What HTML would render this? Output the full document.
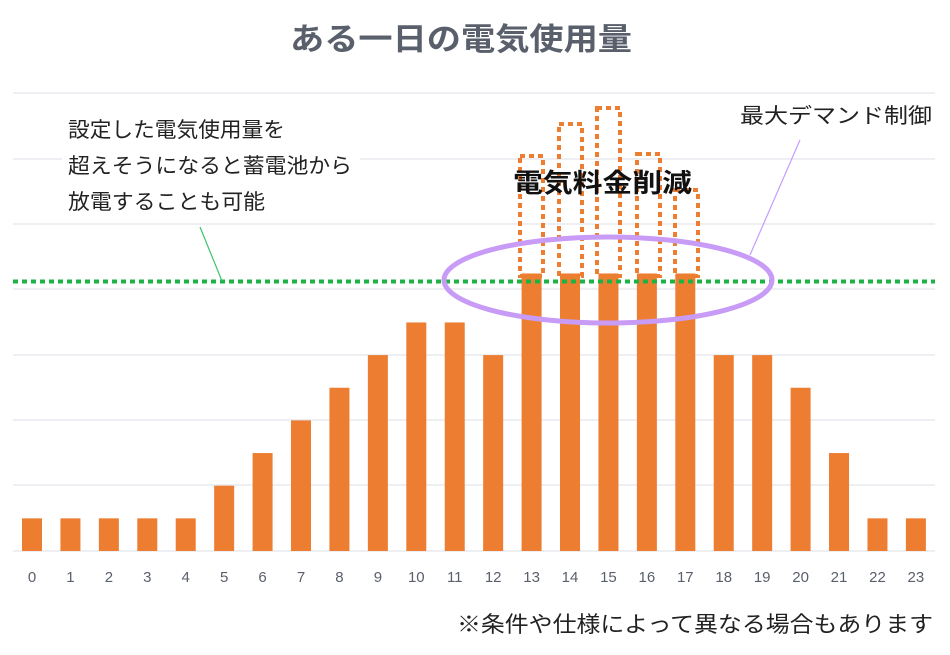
<!DOCTYPE html>
<html><head><meta charset="utf-8"><style>
body{margin:0;background:#fff}
svg{display:block}
text{font-family:"Liberation Sans","Noto Sans CJK JP",sans-serif}
</style></head><body>
<svg width="950" height="655" viewBox="0 0 950 655">
<rect width="950" height="655" fill="#fff"/>
<text x="290" y="50" font-size="31" font-weight="bold" fill="#595f6b" textLength="342" lengthAdjust="spacingAndGlyphs">ある一日の電気使用量</text>
<g stroke="#e3e5ea" stroke-width="1.2">
<line x1="13" x2="935" y1="93" y2="93"/><line x1="13" x2="935" y1="159" y2="159"/>
<line x1="13" x2="935" y1="224" y2="224"/><line x1="13" x2="935" y1="289" y2="289"/>
<line x1="13" x2="935" y1="355" y2="355"/><line x1="13" x2="935" y1="420" y2="420"/>
<line x1="13" x2="935" y1="485" y2="485"/><line x1="13" x2="935" y1="551" y2="551"/>
</g>
<g fill="#ed7d31" id="bars"></g>
<g fill="none" stroke="#ed7d31" stroke-width="4" stroke-dasharray="5 4">
<rect x="520" y="156" width="23" height="120"/>
<rect x="559" y="124" width="23" height="152"/>
<rect x="597" y="108" width="23" height="168"/>
<rect x="637" y="154" width="23" height="122"/>
<rect x="675" y="190" width="23" height="86"/>
</g>
<line x1="13" x2="935" y1="281.5" y2="281.5" stroke="#1db344" stroke-width="4" stroke-dasharray="5 4"/>
<line x1="200" y1="227" x2="222" y2="281" stroke="#3cc46a" stroke-width="1.2"/>
<line x1="750" y1="255" x2="800" y2="140" stroke="#c79bff" stroke-width="1.2"/>
<ellipse cx="608" cy="280" rx="164" ry="43" fill="none" stroke="#c89bf7" stroke-width="5"/>
<rect x="62" y="112" width="298" height="104" fill="#fff"/>
<g font-size="21" fill="#222" lengthAdjust="spacingAndGlyphs">
<text x="68" y="137" textLength="217" lengthAdjust="spacingAndGlyphs">設定した電気使用量を</text>
<text x="68" y="173" textLength="284" lengthAdjust="spacingAndGlyphs">超えそうになると蓄電池から</text>
<text x="68" y="209" textLength="197" lengthAdjust="spacingAndGlyphs">放電することも可能</text>
<text x="740" y="123" textLength="192" lengthAdjust="spacingAndGlyphs">最大デマンド制御</text>
</g>
<text x="513" y="192" font-size="26" font-weight="bold" fill="#111" textLength="179" lengthAdjust="spacingAndGlyphs">電気料金削減</text>
<g font-size="15" fill="#595f6b" text-anchor="middle" id="labs"></g>
<text x="457" y="632" font-size="22" fill="#222" textLength="476" lengthAdjust="spacingAndGlyphs">※条件や仕様によって異なる場合もあります</text>
<script>
var v=[1,1,1,1,1,2,3,4,5,6,7,7,6,8.5,8.5,8.5,8.5,8.5,6,6,5,3,1,1];
var b=document.getElementById('bars'),l=document.getElementById('labs'),ns='http://www.w3.org/2000/svg';
for(var i=0;i<24;i++){var cx=32+i*38.43,h=v[i]*32.65;
var r=document.createElementNS(ns,'rect');r.setAttribute('x',cx-10);r.setAttribute('y',551-h);r.setAttribute('width',20);r.setAttribute('height',h);b.appendChild(r);
var t=document.createElementNS(ns,'text');t.setAttribute('x',cx);t.setAttribute('y',582);t.textContent=i;l.appendChild(t);}
</script>
</svg>
</body></html>
